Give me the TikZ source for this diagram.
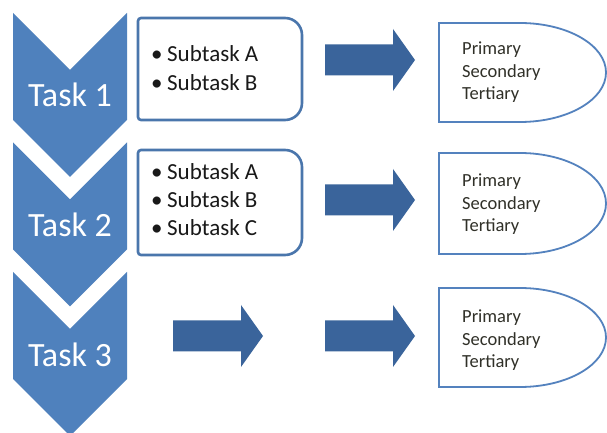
\documentclass[tikz,border=0pt]{standalone}
\usepackage{fontspec}
\setmainfont{Carlito}
\definecolor{chevblue}{RGB}{79,129,189}
\definecolor{arrowblue}{RGB}{58,100,155}
\definecolor{subline}{RGB}{74,118,172}
\definecolor{delayline}{RGB}{84,130,190}
\definecolor{subink}{RGB}{25,25,25}
\definecolor{delayink}{RGB}{48,48,40}

% block arrow, drawn from its tail at the origin (length 90)
\tikzset{
  blockarrow/.pic={
    \fill[arrowblue] (0,-15.5) -- (68,-15.5) -- (68,-31) -- (90,0)
      -- (68,31) -- (68,15.5) -- (0,15.5) -- cycle;
  },
  chevron/.pic={
    \fill[chevblue] (-57,0) -- (0,-57) -- (57,0) -- (57,-107)
      -- (0,-164) -- (-57,-107) -- cycle;
  },
  tasklabel/.style={text=white, font=\fontsize{34}{40}\selectfont, inner sep=0, anchor=base},
  subitem/.style={text=subink, font=\fontsize{23}{28}\selectfont, inner sep=0, anchor=base west},
  delayitem/.style={text=delayink, font=\fontsize{18.5}{22}\selectfont, inner sep=0, anchor=base west},
  subframe/.style={draw=subline, line width=2.6pt, fill=white},
  delayframe/.style={draw=delayline, line width=1.8pt, fill=white},
}

% rectangle with slightly rounded left corners and strongly rounded right ones
% #1 left, #2 bottom, #3 right, #4 top
\newcommand\subtaskframe[4]{%
  \draw[subframe] (#1,#2+3) -- (#1,#4-3) arc[start angle=180,end angle=90,radius=3]
    -- (#3-17,#4) arc[start angle=90,end angle=0,radius=17]
    -- (#3,#2+17) arc[start angle=0,end angle=-90,radius=17]
    -- (#1+3,#2) arc[start angle=270,end angle=180,radius=3] -- cycle;}

% "delay" outline: straight left side, half-ellipse on the right
% #1 bottom, #2 top
\newcommand\delayframe[2]{%
  \draw[delayframe] (439,#1) -- (439,#2) -- (520,#2)
    arc[start angle=90,end angle=-90,x radius=86,y radius={(#2-#1)/2}] -- cycle;}

\begin{document}
\begin{tikzpicture}[x=1pt,y=1pt]
\useasboundingbox (0,0) rectangle (607,433);
\fill[white] (0,0) rectangle (607,433);

% task chevrons
\pic (c1) at (70,420) {chevron};
\pic (c2) at (70,290.5) {chevron};
\pic (c3) at (70,161) {chevron};
\node[tasklabel] (t1) at (70,326) {Task 1};
\node[tasklabel] (t2) at (70,196) {Task 2};
\node[tasklabel] (t3) at (70,66) {Task 3};

% subtask boxes
\subtaskframe{138}{313}{302}{415}
\subtaskframe{138}{178}{302}{283}
\node[subitem] (s1a) at (151,371) {\makebox[16pt][l]{•}Subtask A};
\node[subitem] (s1b) at (151,342) {\makebox[16pt][l]{•}Subtask B};
\node[subitem] (s2a) at (151,253.7) {\makebox[16pt][l]{•}Subtask A};
\node[subitem] (s2b) at (151,225.5) {\makebox[16pt][l]{•}Subtask B};
\node[subitem] (s2c) at (151,197) {\makebox[16pt][l]{•}Subtask C};

% block arrows
\pic (a1) at (325,373) {blockarrow};
\pic (a2) at (325,233) {blockarrow};
\pic (a3) at (173,97) {blockarrow};
\pic (a4) at (325,97) {blockarrow};

% result outlines
\delayframe{311}{410}
\delayframe{179}{280}
\delayframe{46}{145}
\foreach \r/\y in {1/378, 2/246, 3/110}{
  \node[delayitem] (p\r) at (462,\y) {Primary};
  \node[delayitem] (s\r) at (462,\y-22.5) {Secondary};
  \node[delayitem] (q\r) at (462,\y-45) {Tertiary};
}
\end{tikzpicture}
\end{document}
